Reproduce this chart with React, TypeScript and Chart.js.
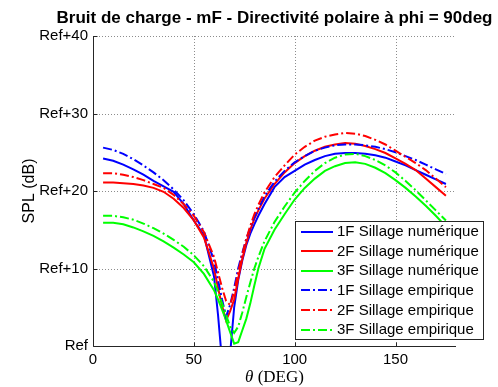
import React, { useEffect, useRef } from "react";
import { Chart, registerables } from "chart.js";

Chart.register(...registerables);

const theta = [5, 10, 15, 20, 25, 30, 35, 40, 45, 50, 55, 60, 62, 64, 66, 68, 70, 72, 74, 76, 78, 80, 82, 85, 90, 95, 100, 105, 110, 115, 120, 125, 130, 135, 140, 145, 150, 155, 160, 165, 170, 175];

const num1F = [24.2, 23.9, 23.4, 22.8, 22.1, 21.3, 20.6, 19.9, 18.3, 16.2, 14.3, 9.0, 4.0, -2, -6, -1, 5.0, 8.5, 11.0, 13.0, 14.5, 15.7, 16.8, 18.3, 20.5, 21.8, 22.6, 23.4, 24.0, 24.5, 24.8, 24.9, 24.9, 24.8, 24.6, 24.3, 23.8, 23.3, 22.7, 22.1, 21.5, 20.9];
const num2F = [21.1, 21.1, 21.0, 20.9, 20.7, 20.4, 19.9, 19.0, 17.8, 16.2, 14.0, 10.0, 7.5, 5.2, 3.3, 4.5, 6.0, 8.7, 11.2, 13.3, 15.0, 16.4, 17.5, 19.0, 20.9, 22.4, 23.6, 24.5, 25.2, 25.7, 26.0, 26.2, 26.1, 25.8, 25.4, 24.9, 24.2, 23.5, 22.7, 21.6, 20.5, 19.4];
const num3F = [15.9, 15.9, 15.7, 15.3, 14.8, 14.2, 13.5, 12.7, 11.8, 10.8, 9.3, 7.2, 6.0, 4.7, 3.3, 1.8, 0.3, 0.5, 2.0, 3.5, 5.5, 7.8, 10.0, 12.5, 15.0, 17.0, 18.9, 20.4, 21.6, 22.6, 23.2, 23.6, 23.7, 23.5, 23.0, 22.3, 21.4, 20.4, 19.3, 18.1, 16.8, 15.4];
const emp1F = [25.6, 25.3, 24.8, 24.1, 23.3, 22.4, 21.4, 20.2, 18.8, 17.0, 14.8, 11.0, 8.5, 6.0, 3.8, 5.3, 7.5, 10.0, 12.0, 13.8, 15.3, 16.6, 17.7, 19.3, 21.2, 22.6, 23.7, 24.5, 25.2, 25.6, 25.9, 26.0, 26.0, 25.9, 25.7, 25.4, 25.0, 24.5, 24.0, 23.4, 22.8, 22.2];
const emp2F = [22.3, 22.3, 22.1, 21.8, 21.4, 20.9, 20.4, 19.5, 18.3, 16.8, 14.7, 11.5, 9.5, 7.5, 5.8, 5.3, 7.0, 9.5, 11.8, 13.8, 15.5, 17.0, 18.2, 19.8, 21.8, 23.3, 24.7, 25.7, 26.5, 27.0, 27.3, 27.5, 27.4, 27.1, 26.6, 26.0, 25.2, 24.4, 23.6, 22.7, 21.6, 20.5];
const emp3F = [16.8, 16.8, 16.6, 16.3, 15.8, 15.2, 14.5, 13.7, 12.8, 11.7, 10.3, 8.3, 7.0, 5.5, 4.0, 2.5, 1.7, 2.5, 4.3, 6.3, 8.2, 10.0, 11.5, 13.5, 16.0, 18.0, 19.8, 21.3, 22.6, 23.6, 24.3, 24.7, 24.8, 24.5, 24.0, 23.3, 22.4, 21.3, 20.1, 18.8, 17.5, 16.2];

const seriesLabels = [
  "1F Sillage numérique",
  "2F Sillage numérique",
  "3F Sillage numérique",
  "1F Sillage empirique",
  "2F Sillage empirique",
  "3F Sillage empirique",
];
const seriesValues = [num1F, num2F, num3F, emp1F, emp2F, emp3F];
const seriesColors = ["#0000ff", "#ff0000", "#00ff00", "#0000ff", "#ff0000", "#00ff00"];
const seriesDashed = [false, false, false, true, true, true];

const xTicks = [0, 50, 100, 150];
const yTicks = [0, 10, 20, 30, 40];
const yTickLabel = (v: number) => (v === 0 ? "Ref" : "Ref+" + v);

const titleText = "Bruit de charge - mF - Directivité polaire à phi = 90deg";
const yTitle = "SPL (dB)";

const DASHDOT = [9, 3, 2, 3];
const SANS = "'Liberation Sans', Arial, sans-serif";
const SERIF = "'Liberation Serif', 'DejaVu Serif', serif";

const decorPlugin = {
  id: "decor",
  beforeDatasetsDraw(chart: any) {
    const { ctx, chartArea: a, scales } = chart;
    const xs = scales.x;
    const ys = scales.y;
    ctx.save();
    ctx.strokeStyle = "#8c8c8c";
    ctx.lineWidth = 1;
    ctx.setLineDash([1, 2]);
    xTicks.forEach((t) => {
      if (t === 0) return;
      const px = Math.round(xs.getPixelForValue(t)) + 0.5;
      ctx.beginPath();
      ctx.moveTo(px, a.top);
      ctx.lineTo(px, a.bottom);
      ctx.stroke();
    });
    yTicks.forEach((t) => {
      if (t === 0) return;
      const py = Math.round(ys.getPixelForValue(t)) + 0.5;
      ctx.beginPath();
      ctx.moveTo(a.left, py);
      ctx.lineTo(a.right, py);
      ctx.stroke();
    });
    ctx.setLineDash([]);
    ctx.strokeStyle = "#262626";
    const L = Math.round(a.left) + 0.5;
    const B = Math.round(a.bottom) + 0.5;
    ctx.beginPath();
    ctx.moveTo(L, a.top);
    ctx.lineTo(L, B);
    ctx.lineTo(a.right, B);
    ctx.stroke();
    xTicks.forEach((t) => {
      const px = Math.round(xs.getPixelForValue(t)) + 0.5;
      ctx.beginPath();
      ctx.moveTo(px, B);
      ctx.lineTo(px, B - 4);
      ctx.stroke();
    });
    yTicks.forEach((t) => {
      const py = Math.round(ys.getPixelForValue(t)) + 0.5;
      ctx.beginPath();
      ctx.moveTo(L, py);
      ctx.lineTo(L + 4, py);
      ctx.stroke();
    });
    ctx.restore();
  },
  afterDraw(chart: any) {
    const { ctx, chartArea: a } = chart;
    ctx.save();
    ctx.fillStyle = "#000";
    ctx.font = "bold 17px " + SANS;
    ctx.textAlign = "center";
    ctx.textBaseline = "alphabetic";
    ctx.fillText(titleText, (a.left + a.right) / 2, 23);
    ctx.save();
    ctx.translate(34, (a.top + a.bottom) / 2);
    ctx.rotate(-Math.PI / 2);
    ctx.font = "16px " + SANS;
    ctx.textAlign = "center";
    ctx.fillText(yTitle, 0, 0);
    ctx.restore();
    const cx = (a.left + a.right) / 2;
    ctx.textAlign = "left";
    ctx.font = "italic 17px " + SERIF;
    const w1 = ctx.measureText("θ").width;
    ctx.font = "17px " + SERIF;
    const rest = " (DEG)";
    const w2 = ctx.measureText(rest).width;
    const start = cx - (w1 + w2) / 2;
    ctx.font = "italic 17px " + SERIF;
    ctx.fillText("θ", start, 382);
    ctx.font = "17px " + SERIF;
    ctx.fillText(rest, start + w1, 382);
    const bx = 295.5, by = 221.5, bw = 188, bh = 118;
    ctx.fillStyle = "#fff";
    ctx.fillRect(bx, by, bw, bh);
    ctx.strokeStyle = "#262626";
    ctx.lineWidth = 1;
    ctx.strokeRect(bx, by, bw, bh);
    ctx.font = "15px " + SANS;
    ctx.textBaseline = "middle";
    seriesLabels.forEach((lab, i) => {
      const y = 231.5 + i * 19.6;
      ctx.strokeStyle = seriesColors[i];
      ctx.lineWidth = 2;
      ctx.setLineDash(seriesDashed[i] ? DASHDOT : []);
      ctx.beginPath();
      ctx.moveTo(301, Math.round(y));
      ctx.lineTo(333, Math.round(y));
      ctx.stroke();
      ctx.setLineDash([]);
      ctx.fillStyle = "#000";
      ctx.fillText(lab, 337, y + 0.5);
    });
    ctx.restore();
  },
};

export default function App() {
  const ref = useRef<HTMLCanvasElement>(null);
  useEffect(() => {
    if (!ref.current) return;
    const chart = new Chart(ref.current, {
      type: "line",
      data: {
        datasets: seriesValues.map((vals, i) => ({
          label: seriesLabels[i],
          data: theta.map((t, j) => ({ x: t, y: vals[j] })),
          borderColor: seriesColors[i],
          backgroundColor: seriesColors[i],
          borderWidth: 2,
          borderDash: seriesDashed[i] ? DASHDOT : [],
          pointRadius: 0,
          fill: false,
          tension: 0,
          order: 6 - i,
        })),
      },
      options: {
        responsive: false,
        animation: false,
        devicePixelRatio: 1,
        layout: { padding: { top: 36, right: 42, left: 0, bottom: 0 } },
        plugins: { legend: { display: false }, title: { display: false }, tooltip: { enabled: false } },
        scales: {
          x: {
            type: "linear",
            min: 0,
            max: 180,
            grid: { display: false, drawTicks: false },
            border: { display: false },
            afterFit: (s: any) => {
              s.height = 41;
            },
            afterBuildTicks: (s: any) => {
              s.ticks = xTicks.map((v) => ({ value: v }));
            },
            ticks: {
              includeBounds: false,
              padding: 5,
              color: "#000",
              font: { family: SANS, size: 15 },
              maxRotation: 0,
              callback: (v: any) => String(v),
            },
          },
          y: {
            type: "linear",
            min: 0,
            max: 40,
            grid: { display: false, drawTicks: false },
            border: { display: false },
            afterFit: (s: any) => {
              s.width = 93;
            },
            afterBuildTicks: (s: any) => {
              s.ticks = yTicks.map((v) => ({ value: v }));
            },
            ticks: {
              padding: 5,
              color: "#000",
              font: { family: SANS, size: 15 },
              callback: (v: any) => yTickLabel(Number(v)),
            },
          },
        },
      },
      plugins: [decorPlugin],
    } as any);
    return () => chart.destroy();
  }, []);
  return (
    <div style={{ position: "absolute", left: 0, top: 0, width: 498, height: 387, background: "#fff" }}>
      <canvas ref={ref} width={498} height={387} style={{ width: 498, height: 387, display: "block" }} />
    </div>
  );
}
